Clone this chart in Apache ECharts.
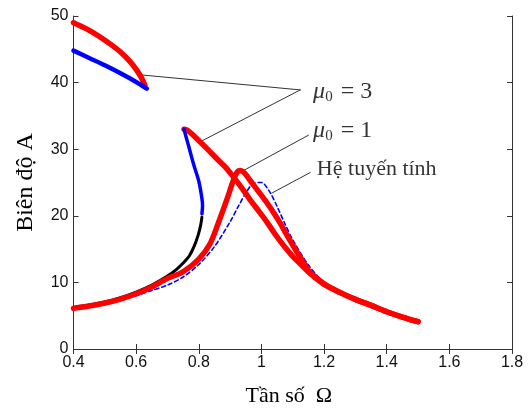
<!DOCTYPE html>
<html>
<head>
<meta charset="utf-8">
<script src="https://cdn.jsdelivr.net/npm/echarts@6/dist/echarts.min.js"></script>
<style>html,body{margin:0;padding:0;background:#fff}#c{width:530px;height:412px}</style>
</head>
<body>
<div id="c"></div>
<script>
// ---- data ----
var xTicks = [0.4, 0.6, 0.8, 1.0, 1.2, 1.4, 1.6, 1.8];
var yTicks = [0, 10, 20, 30, 40, 50];

// mu0 = 3 : isolated upper branch (stable, red) and its unstable part (blue)
var mu3UpperRed = [[0.4,49.0],[0.44,48.1],[0.48,47.0],[0.52,45.7],[0.55,44.6],[0.58,43.2],[0.6,42.0],[0.615,40.9],[0.628,39.6]];
var mu3UpperBlue = [[0.4,44.8],[0.45,43.7],[0.5,42.6],[0.55,41.4],[0.6,40.1],[0.634,39.1]];
// mu0 = 3 : main resonance branch
var mu3LowerBlack = [[0.4,6.25],[0.45,6.6],[0.5,7.05],[0.55,7.7],[0.6,8.55],[0.65,9.6],[0.7,10.95],[0.73,12.0],[0.75,12.9],[0.77,14.0],[0.785,15.4],[0.798,17.1],[0.806,18.6],[0.81,19.8]];
var mu3FoldBlue = [[0.81,20.3],[0.812,21.5],[0.81,22.6],[0.8,25.2],[0.783,27.8],[0.768,30.4],[0.758,32.1],[0.753,33.0]];
var mu3UpperMain = [[0.753,33.0],[0.765,32.8],[0.78,32.2],[0.804,31.1],[0.83,29.9],[0.857,28.6],[0.885,27.3],[0.911,25.8],[0.94,24.0],[0.964,22.4],[0.99,20.8],[1.017,19.1],[1.04,17.5],[1.06,16.2],[1.08,15.0],[1.1,13.9],[1.13,12.5],[1.156,11.3],[1.2,9.7],[1.25,8.5],[1.3,7.45],[1.35,6.55],[1.4,5.6],[1.45,4.8],[1.5,4.1]];
// mu0 = 1
var mu1Curve = [[0.4,6.1],[0.45,6.45],[0.5,6.9],[0.55,7.5],[0.6,8.3],[0.65,9.3],[0.7,10.6],[0.75,11.6],[0.8,13.5],[0.836,15.8],[0.863,19.0],[0.89,22.5],[0.905,24.6],[0.915,25.9],[0.923,26.6],[0.932,26.8],[0.942,26.6],[0.952,26.1],[0.964,25.3],[0.99,23.7],[1.017,22.0],[1.04,20.4],[1.06,18.9],[1.08,17.2],[1.1,15.6],[1.13,13.3],[1.156,11.5],[1.2,9.8],[1.25,8.5],[1.3,7.45],[1.35,6.55],[1.4,5.6],[1.45,4.8],[1.5,4.1]];
// linear system (dashed blue)
var linearCurve = [[0.4,6.0],[0.45,6.35],[0.5,6.8],[0.55,7.35],[0.6,8.0],[0.65,8.8],[0.7,9.6],[0.75,10.81],[0.8,12.69],[0.85,15.37],[0.9,19.1],[0.925,21.3],[0.95,23.4],[0.975,24.9],[1.0,25.0],[1.025,23.7],[1.05,21.4],[1.075,18.8],[1.1,16.4],[1.15,12.6],[1.2,10.0],[1.25,8.4],[1.3,7.35],[1.35,6.45],[1.4,5.5],[1.45,4.75],[1.5,4.05]];

// annotation pointer lines (data coordinates)
var pointerMu3a = [[0.606,41.2],[1.124,38.9]];
var pointerMu3b = [[0.804,31.1],[1.124,38.9]];
var pointerMu1 = [[0.943,26.8],[1.150,32.1]];
var pointerLin = [[1.033,23.4],[1.156,26.5]];
// annotation label anchors
var labelMu3 = [1.165, 38.7];
var labelMu1 = [1.165, 32.8];
var labelLin = [1.177, 27.0];

var xTitle = 'Tần số  Ω';
var yTitle = 'Biên độ A';

// ---- chart ----
var chart = echarts.init(document.getElementById('c'), null, {renderer:'canvas'});
var serif = '"Liberation Serif","Times New Roman",serif';
var sans = '"Liberation Sans",Arial,sans-serif';
var axisCol = '#333';

function lineSeries(data, color, width, z, type, smooth) {
  return {type:'line', data:data, showSymbol:false, symbol:'none', smooth:smooth === undefined ? 0.3 : smooth, z:z, silent:true,
    lineStyle:{color:color, width:width, type:type||'solid', cap:'round', join:'round'}, animation:false};
}
function ptr(data){ return lineSeries(data, '#333', 1, 1, 'solid', false); }
function muLabel(pos, val){
  return {type:'scatter', data:[pos], symbolSize:0, z:10, silent:true, animation:false,
    label:{show:true, position:'right', distance:0,
      formatter:'{mu|μ}{sub|0}{eq| = }{v|' + val + '}',
      rich:{
        mu:{fontFamily:serif, fontSize:24, fontStyle:'italic', color:'#000'},
        sub:{fontFamily:serif, fontSize:15, color:'#000', padding:[12,2,0,0]},
        eq:{fontFamily:serif, fontSize:24, color:'#000'},
        v:{fontFamily:serif, fontSize:24, color:'#000'}
      }}};
}

var option = {
  backgroundColor:'#fff',
  animation:false,
  grid:{left:73.5, right:18, top:16, bottom:50, containLabel:false},
  xAxis:[{
    type:'value', min:0.4, max:1.8, interval:0.2, position:'bottom',
    name:xTitle, nameLocation:'middle', nameGap:36,
    nameTextStyle:{fontFamily:serif, fontSize:22, color:'#000', padding:[0,8,0,0]},
    axisLine:{show:true, lineStyle:{color:axisCol, width:1}},
    axisTick:{show:true, inside:true, length:5, lineStyle:{color:axisCol}},
    axisLabel:{fontFamily:sans, fontSize:16, color:'#111', margin:6,
      formatter:function(v){ var r = Math.round(v*10)/10; return xTicks.indexOf(r) >= 0 ? String(r) : ''; }},
    splitLine:{show:false}
  },{
    type:'value', min:0.4, max:1.8, interval:0.2, position:'top',
    axisLine:{show:true, lineStyle:{color:axisCol, width:1}},
    axisTick:{show:true, inside:true, length:5, lineStyle:{color:axisCol}},
    axisLabel:{show:false}, splitLine:{show:false}
  }],
  yAxis:[{
    type:'value', min:0, max:50, interval:10, position:'left',
    name:yTitle, nameLocation:'middle', nameGap:36, nameRotate:90,
    nameTextStyle:{fontFamily:serif, fontSize:24, color:'#000'},
    axisLine:{show:true, lineStyle:{color:axisCol, width:1}},
    axisTick:{show:true, inside:true, length:5, lineStyle:{color:axisCol}},
    axisLabel:{fontFamily:sans, fontSize:16, color:'#111', margin:5,
      formatter:function(v){ return yTicks.indexOf(v) >= 0 ? String(v) : ''; }},
    splitLine:{show:false}
  },{
    type:'value', min:0, max:50, interval:10, position:'right',
    axisLine:{show:true, lineStyle:{color:axisCol, width:1}},
    axisTick:{show:true, inside:true, length:5, lineStyle:{color:axisCol}},
    axisLabel:{show:false}, splitLine:{show:false}
  }],
  series:[
    ptr(pointerMu3a), ptr(pointerMu3b), ptr(pointerMu1), ptr(pointerLin),
    lineSeries(mu3LowerBlack, '#000', 3, 2),
    lineSeries(linearCurve, '#0000ff', 1.6, 3, [4,3]),
    lineSeries(mu1Curve, '#ff0000', 5.5, 4),
    lineSeries(mu3UpperMain, '#ff0000', 5.5, 4),
    lineSeries(mu3UpperRed, '#ff0000', 5.5, 4),
    lineSeries(mu3FoldBlue, '#0000ff', 3.5, 5),
    lineSeries(mu3UpperBlue, '#0000ff', 4.5, 5),
    muLabel(labelMu3, '3'),
    muLabel(labelMu1, '1'),
    {type:'scatter', data:[labelLin], symbolSize:0, z:10, silent:true, animation:false,
      label:{show:true, position:'right', distance:0, formatter:'Hệ tuyến tính',
        fontFamily:serif, fontSize:22, color:'#000'}}
  ]
};
chart.setOption(option);
</script>
</body>
</html>
